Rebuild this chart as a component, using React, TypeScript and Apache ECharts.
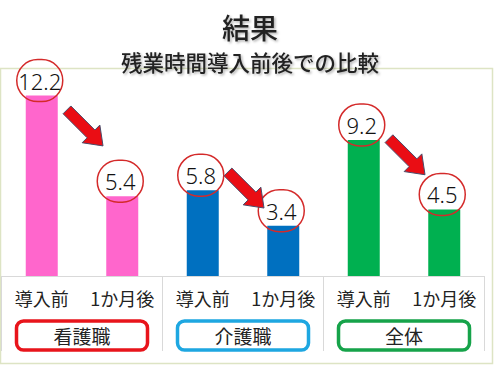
import React, { useEffect, useRef } from "react";
import * as echarts from "echarts";

const categories = ["導入前", "1か月後", "導入前", "1か月後", "導入前", "1か月後"];
const values = [12.2, 5.4, 5.8, 3.4, 9.2, 4.5];
const barColors = ["#ff66cc", "#ff66cc", "#0070c0", "#0070c0", "#00b050", "#00b050"];
const groups = ["看護職", "介護職", "全体"];
const groupColors = ["#e8141b", "#1ea7e1", "#16a34a"];
const arrowPairs = [
  [0, 1],
  [2, 3],
  [4, 5],
];
const titleText = "結果";
const subtitleText = "残業時間導入前後での比較";

const JP = '"Noto Sans CJK JP", "Noto Sans", sans-serif';

export default function App() {
  const ref = useRef<HTMLDivElement>(null);
  useEffect(() => {
    if (!ref.current) return;
    const chart = echarts.init(ref.current, null, { renderer: "svg" });
    const rich: any = {};
    groups.forEach((g, i) => {
      rich["g" + i] = {
        width: 131,
        height: 29,
        lineHeight: 29,
        align: "center",
        borderColor: groupColors[i],
        borderWidth: 3.5,
        borderRadius: 7,
        fontSize: 19,
        color: "#222",
        fontFamily: JP,
      };
    });
    const arrowData = arrowPairs.map(([a, b]) => [a, b, values[a], values[b]]);
    const shadow = {
      textShadowColor: "rgba(0,0,0,0.3)",
      textShadowOffsetX: 1.5,
      textShadowOffsetY: 1.5,
      textShadowBlur: 2,
    };
    chart.setOption({
      animation: false,
      backgroundColor: "#fff",
      title: [
        {
          text: titleText,
          left: "center",
          top: 12,
          padding: 0,
          textStyle: {
            fontSize: 28,
            lineHeight: 29,
            fontWeight: 500,
            color: "#222",
            fontFamily: JP,
            ...shadow,
          },
        },
        {
          text: subtitleText,
          left: "center",
          top: 50,
          padding: 0,
          textStyle: {
            fontSize: 21.5,
            lineHeight: 22,
            fontWeight: 500,
            color: "#222",
            fontFamily: JP,
            ...shadow,
          },
        },
      ],
      graphic: [
        {
          type: "rect",
          z: -1,
          shape: { x: 0.5, y: 68.5, width: 492, height: 295 },
          style: { fill: "none", stroke: "#dde4c4", lineWidth: 1.5 },
        },
      ],
      grid: { left: 1.5, right: 15.5, top: 69, bottom: 99 },
      xAxis: [
        {
          type: "category",
          position: "bottom",
          data: categories,
          axisLine: { show: true, lineStyle: { color: "#d9d9d9", width: 1 } },
          axisTick: { show: false },
          axisLabel: {
            margin: 13,
            fontSize: 18,
            color: "#222",
            fontFamily: JP,
            interval: 0,
          },
        },
        {
          type: "category",
          position: "bottom",
          data: groups,
          axisLine: { show: false },
          axisTick: { show: true, length: 75, lineStyle: { color: "#d9d9d9", width: 1 } },
          axisLabel: {
            margin: 45,
            interval: 0,
            formatter: (v: string) => `{g${groups.indexOf(v)}|${v}}`,
            rich,
          },
        },
      ],
      yAxis: {
        type: "value",
        min: 0,
        max: 14,
        show: false,
        splitLine: { show: false },
      },
      series: [
        {
          type: "bar",
          xAxisIndex: 0,
          barWidth: 32,
          data: values.map((v, i) => ({ value: v, itemStyle: { color: barColors[i] } })),
          label: {
            show: true,
            position: "top",
            distance: 0,
            offset: [-2, 6],
            formatter: (p: any) => p.value.toFixed(1),
            fontSize: 22,
            fontWeight: 300,
            fontFamily: '"Noto Sans", sans-serif',
            color: "#111",
            width: 46,
            height: 42,
            lineHeight: 42,
            align: "center",
            borderColor: "#d42a2a",
            borderWidth: 1.5,
            borderRadius: 24,
          },
        },
        {
          type: "custom",
          xAxisIndex: 0,
          z: 5,
          data: arrowData,
          renderItem: (params: any, api: any) => {
            const p0 = api.coord([api.value(0), api.value(2)]);
            const p1 = api.coord([api.value(1), api.value(3)]);
            const cx = (p0[0] + p1[0]) / 2 + 3;
            const cy = (p0[1] + p1[1]) / 2 - 18;
            const L = 51, h = 17, w = 11, H = 25;
            const local = [
              [-L / 2, -w / 2],
              [L / 2 - h, -w / 2],
              [L / 2 - h, -H / 2],
              [L / 2, 0],
              [L / 2 - h, H / 2],
              [L / 2 - h, w / 2],
              [-L / 2, w / 2],
            ];
            const a = Math.PI / 4;
            const c = Math.cos(a), s = Math.sin(a);
            const pts = local.map(([x, y]) => [cx + x * c - y * s, cy + x * s + y * c]);
            return {
              type: "polygon",
              shape: { points: pts },
              style: { fill: "#ea0d14", stroke: "#4a4c6a", lineWidth: 1 },
            };
          },
        },
      ],
    });
    return () => chart.dispose();
  }, []);
  return (
    <div
      ref={ref}
      style={{ position: "fixed", left: 0, top: 0, width: 500, height: 375 }}
    />
  );
}
